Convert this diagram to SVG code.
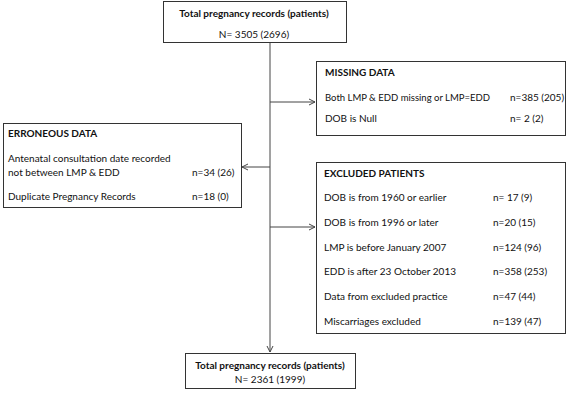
<svg xmlns="http://www.w3.org/2000/svg" width="567" height="400" viewBox="0 0 567 400">
<defs>
<style>
.box{fill:#fff;stroke:#333;stroke-width:1}
.t{font-family:Lato,"Liberation Sans",sans-serif;font-size:10px;fill:#111}
.b{font-weight:bold}
.c{text-anchor:middle}
.ln{stroke:#444;stroke-width:1;fill:none}
</style>
<marker id="ah" markerWidth="8" markerHeight="8" refX="7" refY="4" orient="auto" markerUnits="userSpaceOnUse">
<path d="M1,1 L7,4 L1,7" fill="none" stroke="#444" stroke-width="1"/>
</marker>
</defs>
<rect width="567" height="400" fill="#fff"/>
<g id="connectors">
<line class="ln" x1="270" y1="43" x2="270" y2="352" marker-end="url(#ah)"/>
<line class="ln" x1="270" y1="102" x2="315" y2="102" marker-end="url(#ah)"/>
<line class="ln" x1="270" y1="167" x2="242" y2="167" marker-end="url(#ah)"/>
<line class="ln" x1="270" y1="227" x2="315" y2="227" marker-end="url(#ah)"/>
</g>
<g id="top">
<rect class="box" x="163.5" y="1.5" width="183" height="41"/>
<text class="t b c" x="254" y="17">Total pregnancy records (patients)</text>
<text class="t c" x="254" y="38">N= 3505 (2696)</text>
</g>
<g id="missing">
<rect class="box" x="316.5" y="61.5" width="249" height="74"/>
<text class="t b" x="325" y="75.5">MISSING DATA</text>
<text class="t" x="325" y="100.5" textLength="165" lengthAdjust="spacingAndGlyphs">Both LMP &amp; EDD missing or LMP=EDD</text>
<text class="t" x="510" y="100.5">n=385 (205)</text>
<text class="t" x="325" y="121.5">DOB is Null</text>
<text class="t" x="510" y="121.5">n= 2 (2)</text>
</g>
<g id="erroneous">
<rect class="box" x="3.5" y="123.5" width="238" height="84"/>
<text class="t b" x="8" y="136.5">ERRONEOUS DATA</text>
<text class="t" x="8" y="161.5">Antenatal consultation date recorded</text>
<text class="t" x="8" y="176">not between LMP &amp; EDD</text>
<text class="t" x="192" y="176">n=34 (26)</text>
<text class="t" x="8" y="199.5">Duplicate Pregnancy Records</text>
<text class="t" x="192" y="199.5">n=18 (0)</text>
</g>
<g id="excluded">
<rect class="box" x="316.5" y="162.5" width="249" height="171"/>
<text class="t b" x="324" y="176.5">EXCLUDED PATIENTS</text>
<text class="t" x="324" y="200.5">DOB is from 1960  or earlier</text>
<text class="t" x="493" y="200.5">n= 17 (9)</text>
<text class="t" x="324" y="225.5">DOB is from 1996  or later</text>
<text class="t" x="493" y="225.5">n=20 (15)</text>
<text class="t" x="324" y="250.5">LMP is before January 2007</text>
<text class="t" x="493" y="250.5">n=124 (96)</text>
<text class="t" x="324" y="275">EDD is after 23 October 2013</text>
<text class="t" x="493" y="275">n=358 (253)</text>
<text class="t" x="324" y="300">Data from excluded practice</text>
<text class="t" x="493" y="300">n=47 (44)</text>
<text class="t" x="324" y="324.5">Miscarriages excluded</text>
<text class="t" x="493" y="324.5">n=139 (47)</text>
</g>
<g id="bottom">
<rect class="box" x="185.5" y="353.5" width="170" height="35"/>
<text class="t b c" x="270" y="368.5">Total pregnancy records (patients)</text>
<text class="t c" x="270" y="382.5">N= 2361 (1999)</text>
</g>
</svg>
